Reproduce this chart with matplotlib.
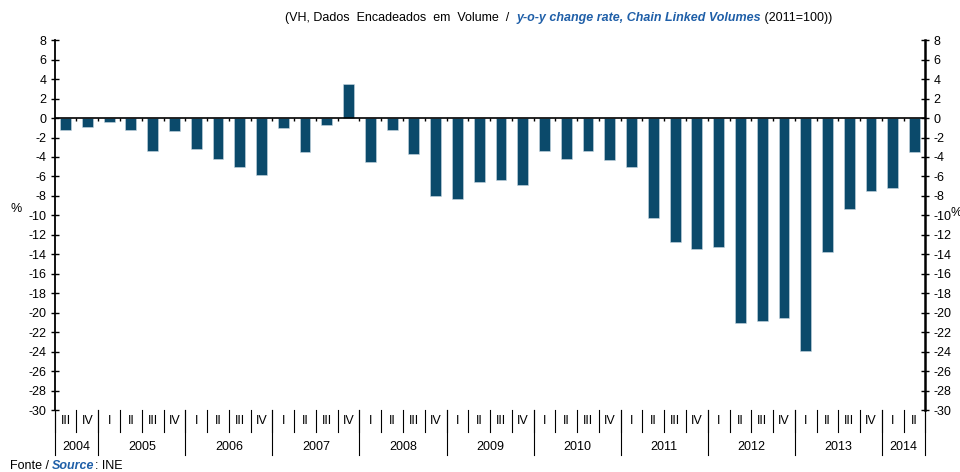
import matplotlib
matplotlib.use("Agg")
import matplotlib.pyplot as plt
import matplotlib.transforms as mtransforms

plt.rcParams['font.family'] = ['Liberation Sans', 'DejaVu Sans']
plt.rcParams['axes.unicode_minus'] = False

# Data (y-o-y change, %)
quarters = ['III', 'IV'] + ['I', 'II', 'III', 'IV'] * 9 + ['I', 'II']
years = ['2004', '2005', '2006', '2007', '2008', '2009', '2010', '2011', '2012', '2013', '2014']
year_counts = [2, 4, 4, 4, 4, 4, 4, 4, 4, 4, 2]
values = [-1.2, -0.9,
          -0.4, -1.2, -3.4, -1.3,
          -3.2, -4.2, -5.0, -5.9,
          -1.0, -3.5, -0.7, 3.5,
          -4.5, -1.2, -3.7, -8.0,
          -8.3, -6.6, -6.4, -6.9,
          -3.4, -4.2, -3.4, -4.3,
          -5.0, -10.3, -12.7, -13.5,
          -13.2, -21.0, -20.8, -20.5,
          -23.9, -13.8, -9.3, -7.5,
          -7.2, -3.5]

bar_color = '#0b4a6b'
blue_text = '#1f5fa8'
fs = 9

fig = plt.figure(figsize=(9.6, 4.72), dpi=100)
ax = fig.add_axes([0.057, 0.131, 0.907, 0.784])

x = list(range(len(values)))
ax.bar(x, values, width=0.5, color=bar_color, edgecolor='#c8d8e2', linewidth=0.4, zorder=2)

ax.set_xlim(-0.5, len(values) - 0.5)
ax.set_ylim(-30, 8)
ax.set_yticks(range(-30, 9, 2))
ax.set_xticks([])
ax.tick_params(axis='y', which='both', direction='inout', length=6, width=1,
               left=True, right=True, labelleft=True, labelright=True, labelsize=fs, pad=3)
for s in ['top', 'bottom']:
    ax.spines[s].set_visible(False)
ax.spines['left'].set_linewidth(1.3)
ax.spines['right'].set_linewidth(1.8)

# zero line with category ticks
ax.axhline(0, color='black', linewidth=1.2, zorder=3)
bounds = [i - 0.5 for i in range(len(values) + 1)]
ax.vlines(bounds[1:-1], -0.35, 0, color='black', linewidth=1, zorder=3)

# category labels below axis
trans = mtransforms.blended_transform_factory(ax.transData, ax.transAxes)
for i, q in enumerate(quarters):
    ax.text(i, -0.030, q, transform=trans, ha='center', va='center', fontsize=fs)
for b in bounds:
    ax.plot([b, b], [0, -0.059], transform=trans, color='black', linewidth=0.8, clip_on=False)
pos = -0.5
ax.plot([pos, pos], [0, -0.122], transform=trans, color='black', linewidth=0.8, clip_on=False)
for yr, n in zip(years, year_counts):
    ax.text(pos + n / 2, -0.10, yr, transform=trans, ha='center', va='center', fontsize=fs)
    pos += n
    ax.plot([pos, pos], [0, -0.122], transform=trans, color='black', linewidth=0.8, clip_on=False)

# % labels
fig.text(0.011, 0.557, '%', fontsize=fs, ha='left', va='center')
fig.text(0.990, 0.549, '%', fontsize=fs, ha='left', va='center')


def chain_text(x0, y0, parts):
    # write text pieces one after another on one line
    renderer = fig.canvas.get_renderer()
    xpos = x0
    for txt, kw in parts:
        t = fig.text(xpos, y0, txt, fontsize=fs, ha='left', va='center', **kw)
        bb = t.get_window_extent(renderer=renderer)
        xpos = bb.x1 / fig.bbox.width


chain_text(0.297, 0.962, [
    ('(VH, Dados  Encadeados  em  Volume  /  ', {}),
    ('y-o-y change rate, Chain Linked Volumes', dict(color=blue_text, style='italic', weight='bold')),
    (' (2011=100))', {}),
])

chain_text(0.010, 0.013, [
    ('Fonte / ', {}),
    ('Source', dict(color=blue_text, style='italic', weight='bold')),
    (': INE', {}),
])

fig.savefig('out.png', dpi=100)
